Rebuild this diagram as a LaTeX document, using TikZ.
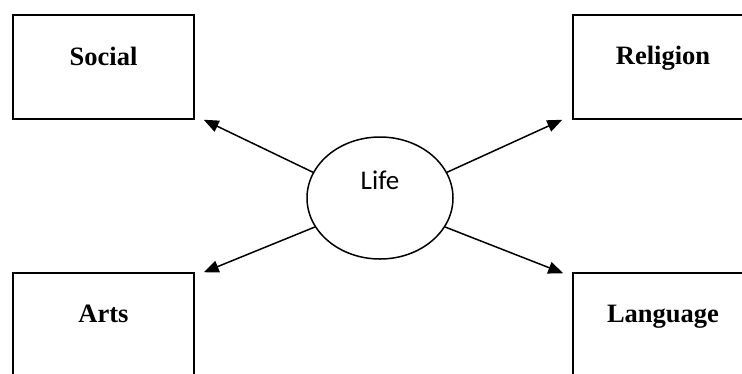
\documentclass[tikz,border=0pt]{standalone}
\usepackage{fontspec}
\newfontfamily\boxfont{Liberation Serif}
\newfontfamily\lifefont{Carlito}
\usetikzlibrary{arrows.meta,shapes.geometric,calc}
\begin{document}
\begin{tikzpicture}[x=1pt,y=-1pt,
  topicbox/.style={draw,line width=1.5pt,minimum width=181pt,minimum height=104pt,inner sep=0pt},
  topictext/.style={anchor=base,inner sep=0pt,font=\boxfont\bfseries\fontsize{26.5}{30}\selectfont},
  conn/.style={line width=1.5pt,-{Triangle[length=15pt,width=12pt]}}]
\useasboundingbox (0,0) rectangle (742,373);
\fill[white] (0,0) rectangle (742,373);
\node[topicbox] (social) at (103.5,67) {};
\node[topicbox] (religion) at (663.5,67) {};
\node[topicbox] (arts) at (103.5,325) {};
\node[topicbox] (language) at (663.5,325) {};
\node[topictext] (socialt) at (103.5,65) {Social};
\node[topictext] (religiont) at (663,64) {Religion};
\node[topictext] (artst) at (103.5,322) {Arts};
\node[topictext] (languaget) at (663,322) {Language};
\node[draw,ellipse,line width=1.5pt,minimum width=146pt,minimum height=122pt,inner sep=0pt] (life) at (380,198) {};
\node[anchor=base,inner sep=0pt,font=\lifefont\fontsize{27}{30}\selectfont] (lifet) at (380,189) {Life};
\draw[conn] (life.159) -- ($(social.south east)+(9,0)$);
\draw[conn] (life.21) -- ($(religion.south west)+(-10,0)$);
\draw[conn] (life.204) -- ($(arts.north east)+(9,0)$);
\draw[conn] (life.336) -- ($(language.north west)+(-9,1)$);
\end{tikzpicture}
\end{document}
